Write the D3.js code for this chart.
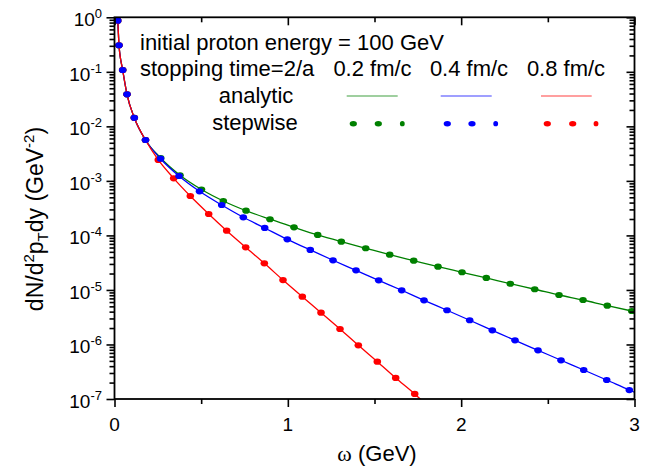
<!DOCTYPE html>
<html><head><meta charset="utf-8">
<script src="https://cdn.jsdelivr.net/npm/d3@7"></script>
<style>
body{margin:0;background:#fff}
svg{display:block}
text{font-family:"Liberation Sans",Arial,sans-serif;fill:#000}
</style>
</head><body>
<svg id="chart" width="665" height="468"></svg>
<script>
// ---------- data ----------
const seriesNames = ["0.2 fm/c", "0.4 fm/c", "0.8 fm/c"];
const seriesColors = ["#008000", "#0000ff", "#ff0000"];

const omegaGreen = [0.0185,0.026,0.0473,0.0721,0.1142,0.1789,0.2665,0.3779,0.5019,0.6277,0.7587,0.8971,1.0356,1.1723,1.3085,1.4493,1.5877,1.7262,1.8664,2.0048,2.145,2.2835,2.4243,2.5645,2.703,2.8431,2.984];
const yieldGreen = [0.866,0.307,0.108,0.0387,0.01435,0.00562,2.63e-3,1.27e-3,6.95e-4,4.28e-4,2.84e-4,1.98e-4,1.41e-4,1.02e-4,7.67e-5,5.81e-5,4.43e-5,3.44e-5,2.67e-5,2.11e-5,1.66e-5,1.30e-5,1.03e-5,8.08e-6,6.54e-6,5.14e-6,4.11e-6];

const omegaBlue = [0.0185,0.026,0.0473,0.0721,0.1142,0.1789,0.2654,0.3721,0.4904,0.6185,0.7431,0.8666,0.9969,1.1296,1.2606,1.3933,1.5243,1.657,1.7856,1.9183,2.0493,2.1797,2.3106,2.4433,2.576,2.707,2.8397,2.970];
const yieldBlue = [0.866,0.307,0.108,0.0387,0.01435,0.00562,2.55e-3,1.23e-3,6.44e-4,3.61e-4,2.15e-4,1.37e-4,8.49e-5,5.41e-5,3.50e-5,2.29e-5,1.50e-5,9.86e-6,6.46e-6,4.24e-6,2.78e-6,1.82e-6,1.19e-6,7.82e-7,5.13e-7,3.40e-7,2.23e-7,1.46e-7];

const omegaRed = [0.0185,0.026,0.0473,0.0721,0.1142,0.1789,0.2527,0.3415,0.4373,0.5435,0.6473,0.7569,0.8643,0.9721,1.0835,1.1914,1.301,1.4066,1.5162,1.6223,1.732];
const yieldRed = [0.866,0.307,0.108,0.0387,0.01435,0.00562,2.42e-3,1.115e-3,5.28e-4,2.47e-4,1.22e-4,6.05e-5,3.08e-5,1.52e-5,7.52e-6,3.83e-6,1.92e-6,9.66e-7,4.83e-7,2.43e-7,1.24e-7];

// analytic curves: same points as the stepwise ones plus their ends
const analyticStartOmega = [0.016, 0.016, 0.016];
const analyticStartYield = [1.0, 1.0, 1.0];
const analyticEndOmega = [3.0, 3.0, 1.77];
const analyticEndYield = [4.01e-6, 1.33e-7, 9.6e-8];

const xTicks = [0, 1, 2, 3];
const xMinorTicks = [0.5, 1.5, 2.5];
const yExponents = [0, -1, -2, -3, -4, -5, -6, -7];

const legendTitle = "initial proton energy = 100 GeV";
const legendSub = "stopping time=2/a";
const legendRows = ["analytic", "stepwise"];

// ---------- layout ----------
const L = 114.5, R = 634.5, T = 17.3, B = 399;
const svg = d3.select("#chart");
const x = d3.scaleLinear().domain([0, 3]).range([L, R]);
const y = d3.scaleLog().domain([1e-7, 1]).range([B, T]);

const series = [
  {w: omegaGreen, v: yieldGreen},
  {w: omegaBlue, v: yieldBlue},
  {w: omegaRed, v: yieldRed}
];

svg.append("defs").append("clipPath").attr("id", "clip")
  .append("rect").attr("x", L).attr("y", T).attr("width", R - L).attr("height", B - T);

const plot = svg.append("g").attr("clip-path", "url(#clip)");
const line = d3.line().x(d => x(d[0])).y(d => y(d[1])).curve(d3.curveMonotoneX);

series.forEach((s, i) => {
  const pts = [[analyticStartOmega[i], analyticStartYield[i]]]
    .concat(s.w.map((w, k) => [w, s.v[k]]))
    .concat([[analyticEndOmega[i], analyticEndYield[i]]]);
  plot.append("path").attr("d", line(pts)).attr("fill", "none")
    .attr("stroke", seriesColors[i]).attr("stroke-width", 1.3);
});
// draw markers: green, then red, then blue (blue on top at the shared start)
[0, 2, 1].forEach(i => {
  const s = series[i];
  plot.selectAll(null).data(s.w.map((w, k) => [w, s.v[k]])).enter()
    .append("ellipse")
    .attr("cx", d => x(d[0])).attr("cy", d => y(d[1]))
    .attr("rx", 3.8).attr("ry", 3.1)
    .attr("fill", seriesColors[i]);
});

// ---------- axes ----------
const minorY = [];
for (let e = -7; e < 0; e++) for (let m = 2; m <= 9; m++) minorY.push(m * Math.pow(10, e));
const majorY = yExponents.map(e => Math.pow(10, e));

const axisStroke = (g) => {
  g.select(".domain").remove();
  g.selectAll(".tick line").attr("stroke", "#000").attr("stroke-width", 1.6);
  g.selectAll(".tick text").remove();
};

// bottom
svg.append("g").attr("transform", `translate(0,${B})`)
  .call(d3.axisBottom(x).tickValues(xTicks).tickSize(8)).call(axisStroke);
svg.append("g").attr("transform", `translate(0,${B})`)
  .call(d3.axisBottom(x).tickValues(xMinorTicks).tickSize(5)).call(axisStroke);
// top (inward)
svg.append("g").attr("transform", `translate(0,${T})`)
  .call(d3.axisBottom(x).tickValues(xTicks).tickSize(8)).call(axisStroke);
svg.append("g").attr("transform", `translate(0,${T})`)
  .call(d3.axisBottom(x).tickValues(xMinorTicks).tickSize(5)).call(axisStroke);
// left (outward)
svg.append("g").attr("transform", `translate(${L},0)`)
  .call(d3.axisLeft(y).tickValues(majorY).tickSize(8)).call(axisStroke);
svg.append("g").attr("transform", `translate(${L},0)`)
  .call(d3.axisLeft(y).tickValues(minorY).tickSize(5)).call(axisStroke);
// right (inward)
svg.append("g").attr("transform", `translate(${R},0)`)
  .call(d3.axisLeft(y).tickValues(majorY).tickSize(8)).call(axisStroke);
svg.append("g").attr("transform", `translate(${R},0)`)
  .call(d3.axisLeft(y).tickValues(minorY).tickSize(5)).call(axisStroke);

// frame
svg.append("rect").attr("x", L).attr("y", T).attr("width", R - L).attr("height", B - T)
  .attr("fill", "none").attr("stroke", "#000").attr("stroke-width", 1.8);

// x tick labels
svg.selectAll(null).data(xTicks).enter().append("text")
  .attr("x", d => x(d)).attr("y", B + 32).attr("text-anchor", "middle")
  .attr("font-size", 19).text(d => d);

// y tick labels
yExponents.forEach(e => {
  const t = svg.append("text").attr("x", 102).attr("y", y(Math.pow(10, e)) + 9)
    .attr("text-anchor", "end").attr("font-size", 19);
  t.append("tspan").text("10");
  t.append("tspan").attr("font-size", 13).attr("dy", -8).text(e);
});

// axis titles
const xt = svg.append("text").attr("x", 377).attr("y", 461).attr("text-anchor", "middle").attr("font-size", 22);
xt.append("tspan").attr("font-family", "Liberation Serif").text("ω");
xt.append("tspan").text(" (GeV)");

const yt = svg.append("text").attr("transform", "translate(43,219) rotate(-90)")
  .attr("text-anchor", "middle").attr("font-size", 23);
yt.append("tspan").text("dN/d");
yt.append("tspan").attr("font-size", 15).attr("dy", -9).text("2");
yt.append("tspan").attr("dy", 9).text("p");
yt.append("tspan").attr("font-size", 15).attr("dy", 5).text("T");
yt.append("tspan").attr("dy", -5).text("dy (GeV");
yt.append("tspan").attr("font-size", 15).attr("dy", -9).text("-2");
yt.append("tspan").attr("dy", 9).text(")");

// ---------- legend ----------
svg.append("text").attr("x", 140).attr("y", 49.5).attr("font-size", 22).text(legendTitle);
svg.append("text").attr("x", 140).attr("y", 75.5).attr("font-size", 22).text(legendSub);
const labelX = [372.5, 469, 566];
seriesNames.forEach((n, i) => {
  svg.append("text").attr("x", labelX[i]).attr("y", 75.5).attr("text-anchor", "middle")
    .attr("font-size", 22).text(n);
});
svg.append("text").attr("x", 256).attr("y", 103).attr("text-anchor", "middle").attr("font-size", 22).text(legendRows[0]);
svg.append("text").attr("x", 255).attr("y", 130).attr("text-anchor", "middle").attr("font-size", 22).text(legendRows[1]);

const legLineX = [[346.7, 397.7], [440.7, 491.7], [541, 591.7]];
const legDots = [[353.3, 378.3, 402.3], [447.3, 472, 495.7], [547.3, 572.7, 596]];
seriesColors.forEach((c, i) => {
  svg.append("line").attr("x1", legLineX[i][0]).attr("x2", legLineX[i][1])
    .attr("y1", 96).attr("y2", 96).attr("stroke", c).attr("stroke-width", 1.2).attr("opacity", 0.75);
  legDots[i].forEach((dx, k) => {
    svg.append("ellipse").attr("cx", dx).attr("cy", 123.7)
      .attr("rx", k < 2 ? 3.6 : 2.4).attr("ry", k < 2 ? 2.8 : 2.6).attr("fill", c);
  });
});
</script>
</body></html>
